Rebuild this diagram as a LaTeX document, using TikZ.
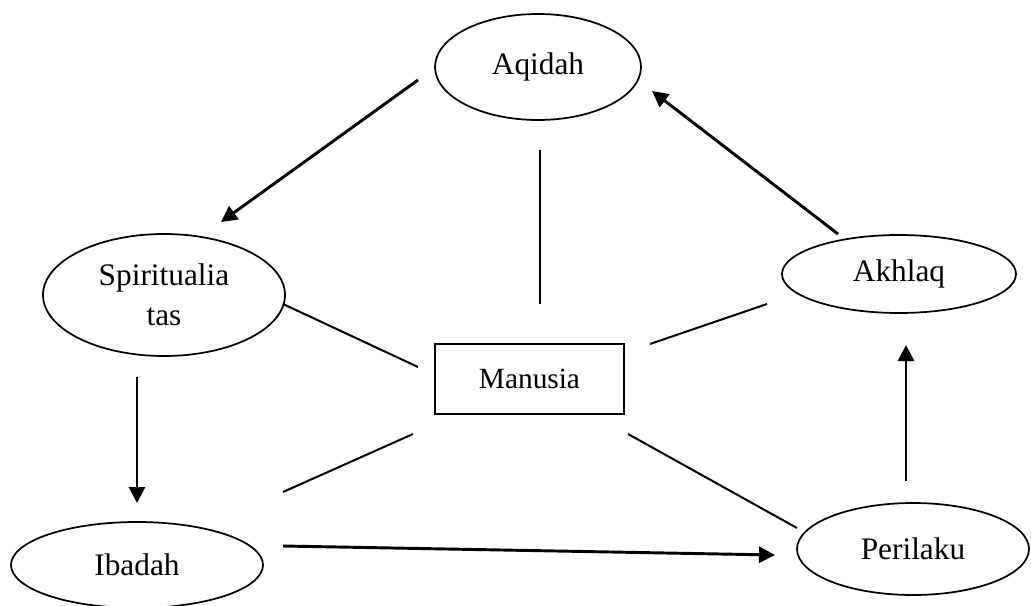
\documentclass[tikz,border=0pt]{standalone}
\usepackage{fontspec}
\setmainfont{Liberation Serif}
\usetikzlibrary{shapes.geometric,arrows.meta}
\begin{document}
\begin{tikzpicture}[x=0.75pt,y=-0.75pt,
  oval/.style={ellipse,draw,line width=1.3pt,inner sep=0pt,font=\fontsize{23.5}{30}\selectfont,align=center},
  box/.style={rectangle,draw,line width=1.4pt,inner sep=0pt,font=\fontsize{22}{26}\selectfont},
  link/.style={line width=1.5pt},
  flow/.style={line width=2.2pt,-{Triangle[length=12pt,width=12pt]}}]
\useasboundingbox (0,0) rectangle (1031,606);
\node[oval,minimum width=154.5pt,minimum height=79.5pt] (aqidah) at (538,67) {Aqidah};
\node[oval,minimum width=181.5pt,minimum height=91.5pt] (spirit) at (164,295) {Spiritualia\\tas};
\node[oval,minimum width=175.5pt,minimum height=58.5pt] (akhlaq) at (899,274) {Akhlaq};
\node[oval,minimum width=189pt,minimum height=64.5pt] (ibadah) at (137,565) {Ibadah};
\node[oval,minimum width=174pt,minimum height=69pt] (perilaku) at (913,549) {Perilaku};
\node[box,minimum width=141.75pt,minimum height=52.5pt] (manusia) at (529.5,379) {Manusia};
% arrow end points
\coordinate (a1) at (418,80);  \coordinate (a2) at (221,222);
\coordinate (b1) at (838,234); \coordinate (b2) at (652,91);
\coordinate (c1) at (137,377); \coordinate (c2) at (137,503);
\coordinate (d1) at (283,546); \coordinate (d2) at (775,555);
\coordinate (e1) at (906,481); \coordinate (e2) at (906,345);
% line end points
\coordinate (f1) at (540,150); \coordinate (f2) at (540,304);
\coordinate (g1) at (283,304); \coordinate (g2) at (418,367);
\coordinate (h1) at (767,304); \coordinate (h2) at (650,344);
\coordinate (i1) at (283,492); \coordinate (i2) at (413,434);
\coordinate (j1) at (797,528); \coordinate (j2) at (628,434);
\draw[flow] (a1) -- (a2);
\draw[flow] (b1) -- (b2);
\draw[flow] (c1) -- (c2);
\draw[flow] (d1) -- (d2);
\draw[flow] (e1) -- (e2);
\draw[link] (f1) -- (f2);
\draw[link] (g1) -- (g2);
\draw[link] (h1) -- (h2);
\draw[link] (i1) -- (i2);
\draw[link] (j1) -- (j2);
\end{tikzpicture}
\end{document}
